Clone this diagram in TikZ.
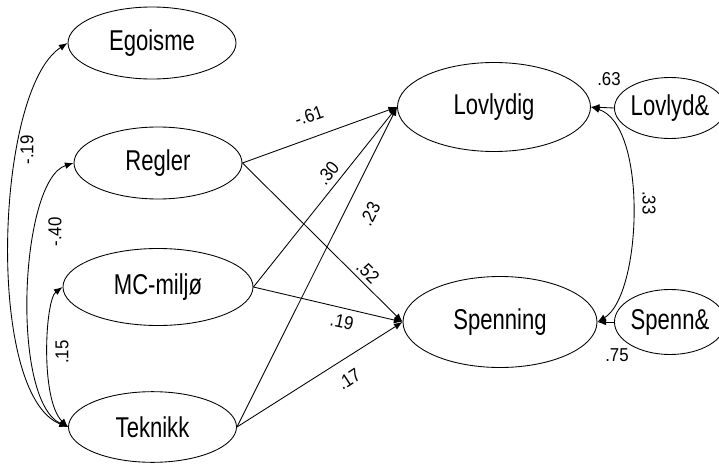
\documentclass[tikz,border=0pt]{standalone}
\usepackage{fontspec}
\setmainfont{Liberation Sans}
\newfontfamily\varfont[FakeStretch=0.77]{Liberation Sans}
\newfontfamily\coeffont[FakeStretch=0.9]{Liberation Sans}
\usetikzlibrary{shapes.geometric,arrows.meta}

\begin{document}
\begin{tikzpicture}[x=0.75pt,y=-0.75pt,
  var/.style={ellipse,draw,line width=0.65pt,inner sep=0pt,
    font=\varfont\fontsize{21.5}{22}\selectfont},
  coef/.style={font=\coeffont\fontsize{14}{15}\selectfont,inner sep=0pt},
  regpath/.style={draw,line width=0.65pt,-{Latex[length=6.5pt,width=5pt]}},
  covpath/.style={draw,line width=0.65pt,{Latex[length=6.5pt,width=5pt]}-{Latex[length=6.5pt,width=5pt]}}]
\useasboundingbox (0,0) rectangle (719,464);

% latent variables
\node[var,minimum width=126pt,minimum height=54pt] (ego) at (152,43) {Egoisme};
\node[var,minimum width=126pt,minimum height=54pt] (reg) at (158,163) {Regler};
\node[var,minimum width=142.5pt,minimum height=57.75pt] (mc) at (158,287) {MC-miljø};
\node[var,minimum width=126pt,minimum height=53pt] (tek) at (152.5,427) {Teknikk};
\node[var,minimum width=144.75pt,minimum height=66.75pt] (lov) at (494,107) {Lovlydig};
\node[var,minimum width=145.5pt,minimum height=68.25pt] (spn) at (500,322) {Spenning};
\node[var,minimum width=73.5pt,minimum height=45.75pt] (lovres) at (670,108) {Lovlyd\&};
\node[var,minimum width=73.5pt,minimum height=48.75pt] (spnres) at (670,322) {Spenn\&};

% regression paths
\path[regpath] (reg.east) -- (lov.west);
\path[regpath] (reg.east) -- (spn.west);
\path[regpath] (mc.east) -- (lov.west);
\path[regpath] (mc.east) -- (spn.west);
\path[regpath] (tek.east) -- (lov.west);
\path[regpath] (tek.east) -- (spn.west);

% residuals
\path[regpath] (lovres.west) -- (lov.east);
\path[regpath] (spnres.west) -- (spn.east);

% covariances among predictors
\path[covpath] (ego.west) .. controls (-5,90) and (-15,395) .. (tek.west);
\path[covpath] (reg.west) .. controls (20,180) and (10,400) .. (tek.west);
\path[covpath] (mc.west) .. controls (45,300) and (40,400) .. (tek.west);

% residual covariance
\path[covpath] (lov.east) .. controls (648,125) and (642,295) .. (spn.east);

% coefficients
\node[coef,rotate=90] (c1) at (27,150) {-.19};
\node[coef,rotate=90] (c2) at (55,232) {-.40};
\node[coef,rotate=90] (c3) at (62,352) {.15};
\node[coef,rotate=19] (c4) at (309,116) {-.61};
\node[coef,rotate=51] (c5) at (328,173) {.30};
\node[coef,rotate=63] (c6) at (370,214) {.23};
\node[coef,rotate=-45] (c7) at (368,272) {.52};
\node[coef,rotate=-12] (c8) at (342,322) {.19};
\node[coef,rotate=33] (c9) at (349,379) {.17};
\node[coef] (c10) at (609,79) {.63};
\node[coef,rotate=-90] (c11) at (649,203) {.33};
\node[coef] (c12) at (617,355) {.75};
\end{tikzpicture}
\end{document}
